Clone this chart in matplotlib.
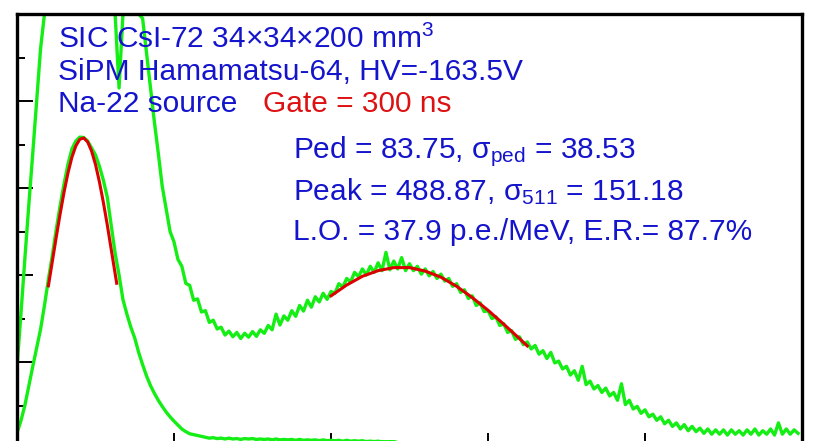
import numpy as np
import matplotlib
matplotlib.use('Agg')
import matplotlib.pyplot as plt
from matplotlib.ticker import MultipleLocator, NullFormatter

plt.rcParams['font.family'] = ['Liberation Sans', 'DejaVu Sans']

# ADC channels (bin centres, 5-channel steps)
step = 5

# Na-22 spectrum, counts per bin (clipped at the frame top)
na22_counts = [
    189, 310, 437, 560, 678, 800, 920, 1000, 1000, 1000,
    1000, 1000, 1000, 1000, 1000, 1000, 1000, 1000, 1000, 1000,
    1000, 1000, 1000, 1000, 1000, 1000, 830, 1000, 1000, 1000,
    1000, 1000, 990, 910, 830, 752, 680, 604, 552, 500,
    476, 436, 420, 381, 376, 342, 345, 315, 318, 291,
    296, 276, 280, 262, 271, 258, 268, 254, 266, 257,
    270, 259, 274, 266, 284, 274, 310, 285, 306, 296,
    318, 305, 330, 317, 342, 326, 350, 338, 358, 344,
    362, 358, 380, 372, 392, 384, 406, 396, 414, 400,
    420, 406, 428, 410, 452, 412, 432, 414, 440, 410,
    426, 410, 420, 402, 414, 398, 408, 392, 402, 386,
    392, 374, 380, 360, 366, 346, 352, 330, 336, 316,
    318, 300, 304, 284, 288, 268, 272, 252, 258, 240,
    246, 230, 238, 218, 226, 208, 222, 198, 202, 184,
    190, 170, 180, 158, 190, 148, 156, 138, 146, 130,
    140, 122, 130, 112, 150, 102, 112, 92, 98, 82,
    90, 74, 80, 66, 74, 58, 66, 52, 60, 46,
    56, 42, 52, 40, 48, 36, 46, 34, 44, 34,
    44, 32, 44, 34, 42, 32, 44, 34, 46, 32,
    42, 34, 46, 32, 60, 34, 46, 34, 44, 36,
]

# pedestal spectrum
ped_counts = [
    37, 65, 100, 145, 189, 232, 275, 330, 390, 445,
    505, 560, 610, 655, 690, 708, 717, 716, 708, 692,
    676, 650, 618, 579, 515, 450, 400, 343, 310, 280,
    255, 222, 194, 168, 146, 128, 112, 98, 85, 74,
    64, 55, 46, 40, 35, 33, 31, 29, 27, 25,
    26, 24, 25, 23, 25, 23, 24, 22, 24, 23,
    24, 22, 23, 22, 23, 21, 23, 21, 22, 21,
    22, 20, 22, 20, 21, 20, 21, 19, 21, 19,
    20, 19, 20, 18, 20, 18, 19, 18, 19, 17,
    18, 17, 18, 16, 17, 16, 17, 15, 16, 15,
    15, 14, 15, 13, 14, 13, 13, 12, 13, 12,
    12, 11, 12, 10, 11, 10, 10, 9, 10, 9,
    9, 8, 9, 8, 8, 7, 8, 7, 7, 6,
]

# fitted curves
ped_fit_x = [40, 45, 50, 55, 60, 65, 70, 75, 80, 85, 90, 95, 100, 105, 110, 115, 120, 125, 127]
ped_fit_y = [375, 431, 487, 541, 591, 635, 671, 697, 712, 715, 706, 685, 654, 614, 567, 515, 459, 403, 381]
peak_fit_x = [400, 420, 440, 460, 480, 500, 520, 540, 560, 580, 600, 620, 640, 650]
peak_fit_y = [352, 377, 397, 410, 417, 417, 409, 395, 374, 348, 319, 287, 254, 237]

na22_ch = np.arange(len(na22_counts)) * step
ped_ch = np.arange(len(ped_counts)) * step

green = '#14ee14'
blue = '#1414cc'
red = '#dd0000'

fig = plt.figure(figsize=(8.28, 4.41), dpi=100)
ax = fig.add_axes([17 / 828, -8 / 441, 785 / 828, 435 / 441])

ax.plot(ped_ch, ped_counts, color=green, lw=2.4)
ax.plot(na22_ch, na22_counts, color=green, lw=2.4)
ax.plot(ped_fit_x, ped_fit_y, color=red, lw=2.2)
ax.plot(peak_fit_x, peak_fit_y, color=red, lw=2.2)

ax.set_xlim(0, 1000)
ax.set_ylim(0, 1000)
ax.xaxis.set_major_locator(MultipleLocator(200))
ax.xaxis.set_minor_locator(MultipleLocator(50))
ax.yaxis.set_major_locator(MultipleLocator(200))
ax.yaxis.set_minor_locator(MultipleLocator(100))
ax.xaxis.set_major_formatter(NullFormatter())
ax.yaxis.set_major_formatter(NullFormatter())
ax.tick_params(which='both', direction='in', width=1.4, color='black')
ax.tick_params(which='major', length=11.5)
ax.tick_params(which='minor', length=5.8)
for s in ax.spines.values():
    s.set_linewidth(2.4)

fs = 21.5
ax.text(52, 922, 'SIC CsI-72 34×34×200 mm$\\mathregular{^3}$', color=blue, fontsize=fs, va='baseline')
ax.text(52, 848, 'SiPM Hamamatsu-64, HV=-163.5V', color=blue, fontsize=fs, va='baseline')
ax.text(52, 775, 'Na-22 source', color=blue, fontsize=fs, va='baseline')
ax.text(313, 775, 'Gate = 300 ns', color='#dd1111', fontsize=fs, va='baseline')
ax.text(352, 669, 'Ped = 83.75, $\\mathregular{σ_{ped}}$ = 38.53', color=blue, fontsize=fs, va='baseline')
ax.text(352, 572, 'Peak = 488.87, $\\mathregular{σ_{511}}$ = 151.18', color=blue, fontsize=fs, va='baseline')
ax.text(352, 480, 'L.O. = 37.9 p.e./MeV, E.R.= 87.7%', color=blue, fontsize=fs, va='baseline')

fig.savefig('out.png', dpi=100)
